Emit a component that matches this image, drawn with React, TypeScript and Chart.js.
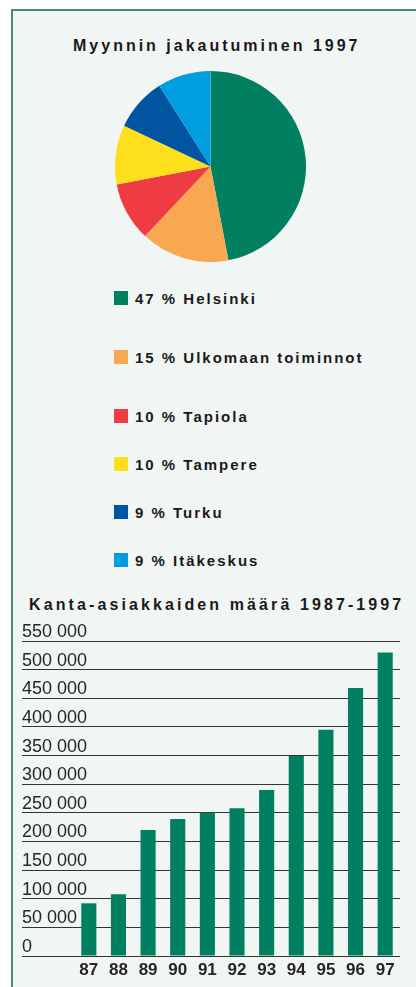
import React, { useEffect, useRef } from "react";
import { Chart, registerables } from "chart.js";

Chart.register(...registerables);

// ---- Data ----
const pieTitle = "Myynnin jakautuminen 1997";
const salesLabels = ["Helsinki", "Ulkomaan toiminnot", "Tapiola", "Tampere", "Turku", "Itäkeskus"];
const salesShares = [47, 15, 10, 10, 9, 9];
const salesColors = ["#008060", "#f9a852", "#ef3b42", "#fde01b", "#0054a0", "#009edf"];

const barTitle = "Kanta-asiakkaiden määrä 1987-1997";
const years = ["87", "88", "89", "90", "91", "92", "93", "94", "95", "96", "97"];
const customers = [92000, 108000, 220000, 239000, 250000, 258000, 290000, 349000, 395000, 468000, 530000];
const yMin = 0;
const yMax = 550000;
const yStep = 50000;
const barColor = "#008060";

// ---- Layout (positions only) ----
const legendTops = [291, 350, 409, 457, 505, 553];
const FONT = "'Liberation Sans', Arial, sans-serif";

const fmt = (v: number) => String(v).replace(/\B(?=(\d{3})+(?!\d))/g, " ");

function PieChart() {
  const ref = useRef<HTMLCanvasElement>(null);
  useEffect(() => {
    const chart = new Chart(ref.current!, {
      type: "pie",
      data: {
        labels: salesLabels,
        datasets: [
          {
            data: salesShares,
            backgroundColor: salesColors,
            borderWidth: 0,
          },
        ],
      },
      options: {
        responsive: false,
        animation: false,
        layout: { padding: 0 },
        plugins: { legend: { display: false }, tooltip: { enabled: false }, title: { display: false } },
      },
    });
    return () => chart.destroy();
  }, []);
  return (
    <canvas
      ref={ref}
      width={191}
      height={191}
      style={{ position: "absolute", left: 115, top: 71, width: 191, height: 191, display: "block" }}
    />
  );
}

function BarChart() {
  const ref = useRef<HTMLCanvasElement>(null);
  useEffect(() => {
    const chart = new Chart(ref.current!, {
      type: "bar",
      data: {
        labels: years,
        datasets: [
          {
            data: customers,
            backgroundColor: barColor,
            borderWidth: 0,
            barPercentage: 0.51,
            categoryPercentage: 1,
          },
        ],
      },
      options: {
        responsive: false,
        animation: false,
        layout: { padding: { left: 22, right: 16, top: 23, bottom: 0 } },
        plugins: { legend: { display: false }, tooltip: { enabled: false }, title: { display: false } },
        scales: {
          x: {
            grid: { display: false, drawTicks: false },
            border: { display: false },
            ticks: {
              padding: 4,
              color: "#262626",
              font: { family: FONT, size: 17, weight: "bold" },
              maxRotation: 0,
              autoSkip: false,
            },
            afterFit: (s: any) => {
              s.height = 31;
            },
          },
          y: {
            min: yMin,
            max: yMax,
            grid: {
              color: "#333333",
              lineWidth: 1,
              drawTicks: true,
              tickLength: 52,
              tickColor: "#333333",
            },
            border: { display: false },
            ticks: {
              stepSize: yStep,
              mirror: true,
              crossAlign: "near",
              padding: -52,
              labelOffset: -9,
              color: "#262626",
              font: { family: FONT, size: 18 },
              callback: (v: any) => fmt(Number(v)),
            },
            afterFit: (s: any) => {
              s.width = 52;
            },
          },
        },
      },
    });
    return () => chart.destroy();
  }, []);
  return (
    <canvas
      ref={ref}
      width={416}
      height={369}
      style={{ position: "absolute", left: 0, top: 618, width: 416, height: 369, display: "block" }}
    />
  );
}

const titleStyle: React.CSSProperties = {
  position: "absolute",
  fontFamily: FONT,
  fontWeight: "bold",
  fontSize: 16,
  lineHeight: "16px",
  letterSpacing: "3px",
  color: "#1a1a1a",
  whiteSpace: "nowrap",
};

export default function App() {
  return (
    <div
      style={{
        position: "absolute",
        left: 0,
        top: 0,
        width: 416,
        height: 987,
        overflow: "hidden",
        background: "#ffffff",
      }}
    >
      <div
        style={{
          position: "absolute",
          left: 11,
          top: 9,
          width: 440,
          height: 1000,
          borderLeft: "2px solid #45906f",
          borderTop: "2px solid #45906f",
          background: "#f1f5f3",
        }}
      />
      <div style={{ ...titleStyle, left: 73, top: 37.8 }}>{pieTitle}</div>
      <PieChart />
      {salesLabels.map((label, i) => (
        <React.Fragment key={label}>
          <div
            style={{
              position: "absolute",
              left: 114,
              top: legendTops[i],
              width: 14,
              height: 14,
              background: salesColors[i],
            }}
          />
          <div
            style={{
              ...titleStyle,
              fontSize: 15,
              lineHeight: "15px",
              left: 135,
              top: legendTops[i] + 0.3,
              letterSpacing: "2px",
            }}
          >
            {`${salesShares[i]} % ${label}`}
          </div>
        </React.Fragment>
      ))}
      <BarChart />
      <div style={{ ...titleStyle, left: 29, top: 596.5, letterSpacing: "3.1px" }}>{barTitle}</div>
    </div>
  );
}
